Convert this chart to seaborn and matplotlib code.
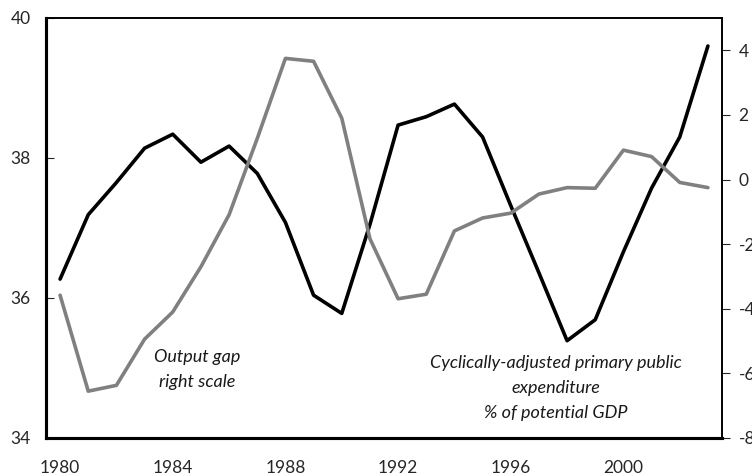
import matplotlib
matplotlib.use("Agg")
import matplotlib.pyplot as plt
import seaborn as sns
import numpy as np
import pandas as pd

years = list(range(1980, 2004))
expenditure = [36.27, 37.19, 37.65, 38.14, 38.34, 37.94, 38.17, 37.78, 37.08, 36.04,
               35.78, 37.05, 38.47, 38.59, 38.77, 38.30, 37.32, 36.36, 35.39, 35.69,
               36.66, 37.57, 38.30, 39.60]
output_gap = [-3.58, -6.55, -6.37, -4.94, -4.10, -2.70, -1.09, 1.27, 3.75, 3.66,
              1.90, -1.83, -3.69, -3.55, -1.59, -1.19, -1.04, -0.45, -0.25, -0.27,
              0.91, 0.71, -0.09, -0.25]
xtick_labels = [1980, 1984, 1988, 1992, 1996, 2000]
left_ticks = [34, 36, 38, 40]
right_ticks = [-8, -6, -4, -2, 0, 2, 4]

df = pd.DataFrame({"year": years, "exp": expenditure, "gap": output_gap})

sns.set_style("white")
plt.rcParams['font.family'] = ['Lato', 'DejaVu Sans']

fig = plt.figure(figsize=(7.52, 4.75), dpi=100)
ax = fig.add_axes([46/752, 1-438/475, (722-46)/752, (438-18)/475])
ax2 = ax.twinx()

sns.lineplot(data=df, x="year", y="exp", ax=ax, color="black", linewidth=2.6)
sns.lineplot(data=df, x="year", y="gap", ax=ax2, color="#808080", linewidth=2.6)

ax.set_xlim(1979.5, 2003.5)
ax.set_ylim(34, 40)
ax2.set_ylim(-8, 5)

ax.set_yticks(left_ticks)
ax.set_yticklabels([str(t) for t in left_ticks])
ax2.set_yticks(right_ticks)
ax2.set_yticklabels([str(t) for t in right_ticks])

ax.set_xticks([t - 0.5 for t in xtick_labels[1:]])
ax.set_xticklabels([])
ax.set_xticks(xtick_labels, minor=True)
ax.set_xticklabels([str(t) for t in xtick_labels], minor=True)
ax.tick_params(axis='x', which='major', direction='in', length=5, width=0.8, color='#555555')
ax.tick_params(axis='x', which='minor', length=0, pad=16, labelsize=12.5)
ax.tick_params(axis='y', direction='in', length=6, width=0.8, pad=11, labelsize=12.5, left=True)
ax2.tick_params(axis='y', direction='out', length=6, width=0.8, pad=6, labelsize=12.5, right=True)

for a in (ax, ax2):
    a.set_xlabel("")
    a.set_ylabel("")
    for s in a.spines.values():
        s.set_color("black")
    a.spines['left'].set_linewidth(2.2)
    a.spines['bottom'].set_linewidth(2.2)
    a.spines['top'].set_linewidth(1.2)
    a.spines['right'].set_linewidth(1.2)

tkw = dict(style='italic', fontsize=13, ha='center', va='center', color='#1a1a1a')
ax.text(1984.85, 35.15, "Output gap", **tkw)
ax.text(1984.85, 34.80, "right scale", **tkw)
ax.text(1997.6, 35.07, "Cyclically-adjusted primary public", **tkw)
ax.text(1997.6, 34.71, "expenditure", **tkw)
ax.text(1997.6, 34.36, "% of potential GDP", **tkw)

fig.savefig("out.png", dpi=100)
